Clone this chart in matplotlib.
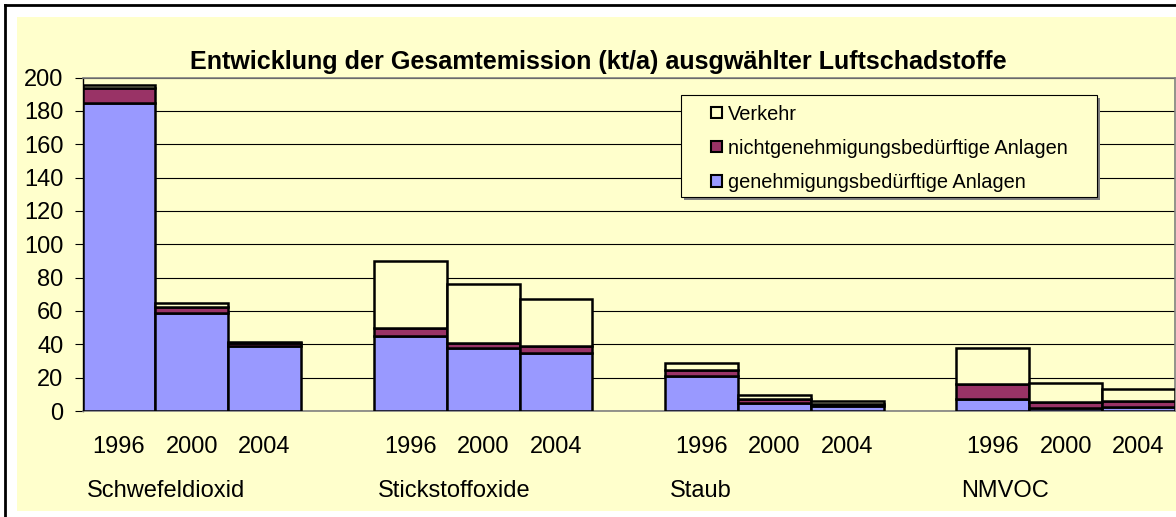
import matplotlib
matplotlib.use('Agg')
import matplotlib.pyplot as plt
from matplotlib.patches import Rectangle
from matplotlib.lines import Line2D

plt.rcParams['font.family'] = ['Liberation Sans', 'DejaVu Sans']

# Gesamtemission in kt/a, je Stoff die Jahre 1996, 2000, 2004
stoffe = ['Schwefeldioxid', 'Stickstoffoxide', 'Staub', 'NMVOC']
jahre = ['1996', '2000', '2004']
genehm = [184.5, 59, 39, 45, 37.5, 35, 21, 5, 3, 7, 1.5, 2.5]
nicht = [9, 3.5, 1.5, 5, 3.5, 4, 3.5, 2, 1, 9, 4, 3.5]
verkehr = [2, 2, 1, 40, 35, 28, 4, 2.5, 2, 22, 11.5, 7]
serien = ['genehmigungsbedürftige Anlagen', 'nichtgenehmigungsbedürftige Anlagen', 'Verkehr']
farben = ['#9999FF', '#993366', '#FFFFCC']
y_ticks = [0, 20, 40, 60, 80, 100, 120, 140, 160, 180, 200]

W, H = 1176, 517
bg = '#FFFFCC'

def fx(x):
    return x / W

def fy(y):
    return 1 - y / H

fig = plt.figure(figsize=(W / 100, H / 100), dpi=100)
fig.patch.set_facecolor('white')

# chart area + outer frame
fig.add_artist(Rectangle((fx(17), fy(511)), 1.01 - fx(17), fy(17) - fy(511),
                         transform=fig.transFigure, facecolor=bg, edgecolor='none', zorder=0))
fig.add_artist(Line2D([fx(5), fx(5)], [0, fy(5)], transform=fig.transFigure, color='black', lw=2))
fig.add_artist(Line2D([fx(5), 1], [fy(5), fy(5)], transform=fig.transFigure, color='black', lw=2))

ax = fig.add_axes([fx(82.5), fy(411), fx(1175) - fx(82.5), fy(77.5) - fy(411)])
ax.set_facecolor(bg)

x = [g * 4 + j for g in range(len(stoffe)) for j in range(len(jahre))]
unten2 = [a + b for a, b in zip(genehm, nicht)]
ax.bar(x, genehm, width=1, color=farben[0], edgecolor='black', lw=1.8, zorder=3)
ax.bar(x, nicht, width=1, bottom=genehm, color=farben[1], edgecolor='black', lw=1.8, zorder=3)
ax.bar(x, verkehr, width=1, bottom=unten2, color=farben[2], edgecolor='black', lw=1.8, zorder=3)

ax.set_xlim(-0.5, 14.5)
ax.set_ylim(0, 200)
ax.set_yticks(y_ticks)
ax.set_xticks([])
ax.set_axisbelow(True)
ax.yaxis.grid(True, color='black', lw=0.8)
ax.tick_params(axis='y', direction='out', length=5.8, width=0.8, pad=7.9, labelsize=17)
for s in ['top', 'right', 'bottom']:
    ax.spines[s].set_color('#808080')
    ax.spines[s].set_linewidth(1.2)
ax.spines['left'].set_color('black')
ax.spines['left'].set_linewidth(1)

tr = ax.get_xaxis_transform()
for i, xp in enumerate(x):
    ax.text(xp, -0.125, jahre[i % 3], transform=tr, ha='center', va='baseline', fontsize=17)
for g, name in enumerate(stoffe):
    ax.text(g * 4 - 0.44, -0.258, name, transform=tr, ha='left', va='baseline', fontsize=17)

fig.text(fx(598), fy(69), 'Entwicklung der Gesamtemission (kt/a) ausgwählter Luftschadstoffe',
         ha='center', va='baseline', fontsize=18.1, fontweight='bold')

# legend (drawn by hand to match the Excel box)
lx0, ly0, lx1, ly1 = 681, 95, 1097, 197
fig.add_artist(Rectangle((fx(lx0 + 3), fy(ly1 + 3)), fx(lx1) - fx(lx0), fy(ly0) - fy(ly1),
                         transform=fig.transFigure, facecolor='#808080', edgecolor='none', zorder=5))
fig.add_artist(Rectangle((fx(lx0), fy(ly1)), fx(lx1) - fx(lx0), fy(ly0) - fy(ly1),
                         transform=fig.transFigure, facecolor=bg, edgecolor='black', lw=0.8, zorder=6))
zeilen = [112.5, 146.7, 181]
for k, (lab, col) in enumerate(zip(serien[::-1], farben[::-1])):
    cy = zeilen[k]
    fig.add_artist(Rectangle((fx(711), fy(cy + 5.5)), fx(11), 11 / H,
                             transform=fig.transFigure, facecolor=col, edgecolor='black', lw=1.5, zorder=7))
    fig.text(fx(728), fy(cy + 7.3), lab, ha='left', va='baseline', fontsize=14.4, zorder=7)

fig.savefig('out.png', dpi=100, facecolor='white')
